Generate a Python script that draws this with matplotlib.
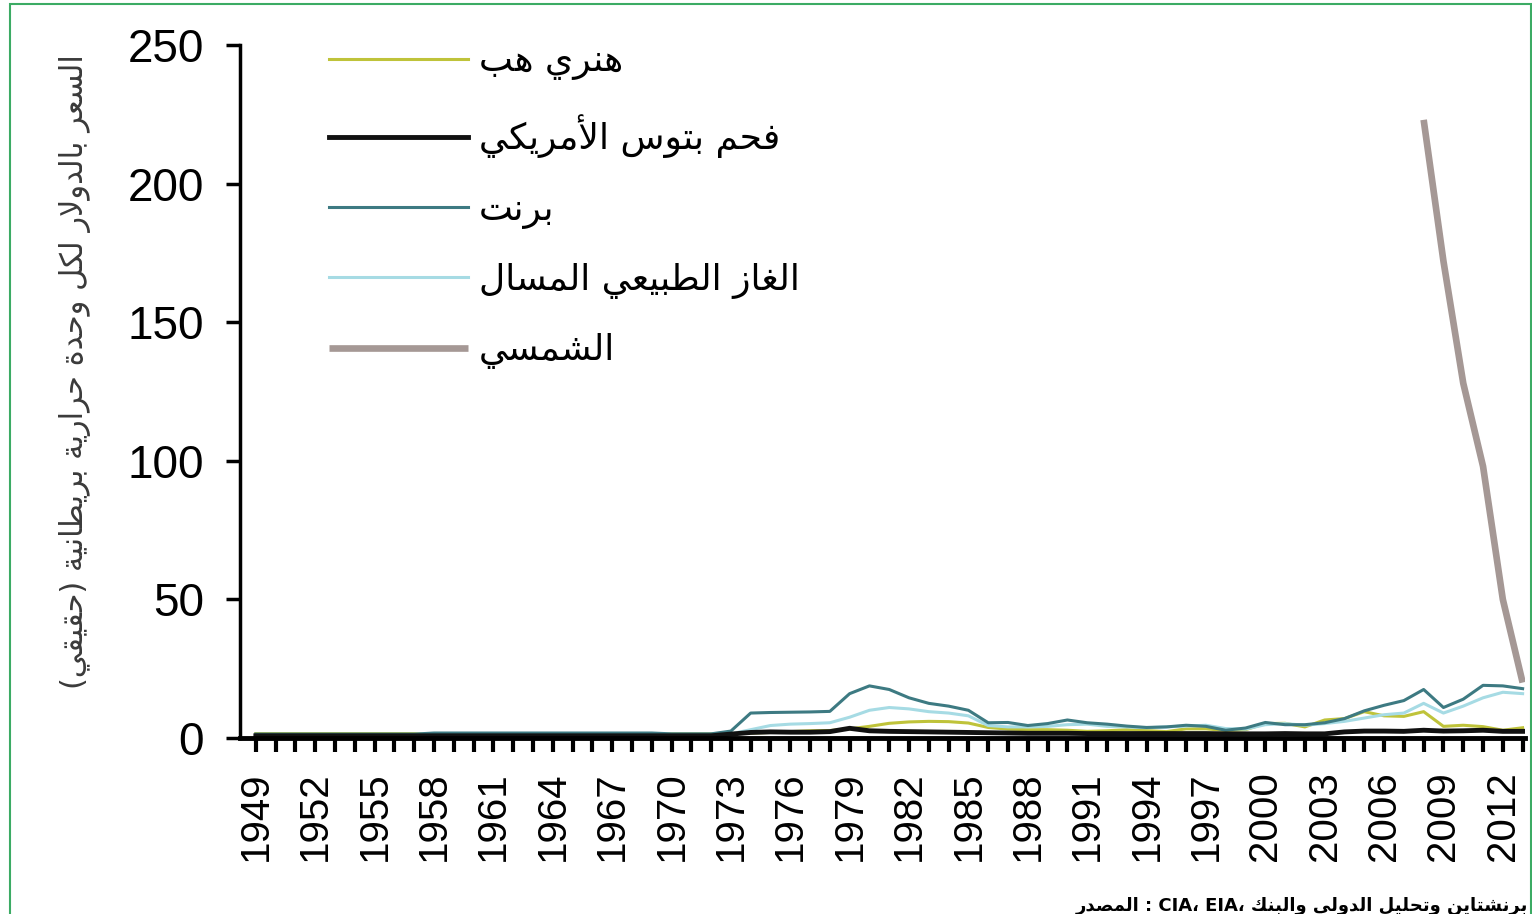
import matplotlib
matplotlib.use("Agg")
import matplotlib.pyplot as plt
from matplotlib.patches import Rectangle
import numpy as np

# ---------------- data ----------------
years = list(range(1949, 2014))

henry_hub = ([1.6] * 9 + [1.2] * 12 + [1.5] * 3 +
             [1.6, 1.8, 2.0, 2.3, 2.6, 2.7, 3.3, 4.2, 5.3, 5.8, 6.0, 5.9, 5.4,
              3.8, 3.2, 3.0, 3.0, 2.8, 2.4, 2.6, 3.0, 2.7, 2.3, 3.3, 3.3, 2.7,
              3.0, 5.2, 5.3, 4.0, 6.5, 7.0, 9.5, 8.0, 7.8, 9.5, 4.2, 4.6, 4.1,
              2.8, 3.7])

coal = ([0.8] * 24 +
        [1.4, 2.0, 2.2, 2.1, 2.1, 2.3, 3.5, 2.6, 2.4, 2.3, 2.2, 2.1, 2.0,
         1.9, 1.8, 1.7, 1.7, 1.7, 1.6, 1.6, 1.6, 1.6, 1.6, 1.6, 1.6, 1.5,
         1.5, 1.5, 1.6, 1.5, 1.5, 2.2, 2.5, 2.5, 2.4, 2.8, 2.5, 2.6, 2.8,
         2.4, 2.4])

brent = ([1.4] * 9 + [1.8] * 12 + [1.5] * 3 +
         [2.5, 9.0, 9.2, 9.3, 9.4, 9.6, 16.0, 18.8, 17.5, 14.5, 12.5, 11.5,
          10.0, 5.5, 5.6, 4.5, 5.2, 6.5, 5.5, 5.0, 4.3, 3.8, 4.0, 4.6, 4.2,
          2.8, 3.6, 5.6, 4.8, 4.8, 5.5, 7.0, 9.8, 11.8, 13.5, 17.5, 11.0,
          14.0, 19.0, 18.8, 17.8])

lng = ([1.3] * 24 +
       [1.5, 3.0, 4.5, 5.0, 5.2, 5.5, 7.5, 10.0, 11.0, 10.5, 9.5, 9.0, 8.0,
        4.5, 4.0, 4.0, 4.2, 4.8, 5.0, 4.2, 4.0, 3.7, 4.0, 4.3, 4.6, 3.4,
        3.2, 4.8, 5.2, 4.6, 5.2, 6.0, 7.2, 8.4, 9.0, 12.5, 9.0, 11.5, 14.5,
        16.5, 16.0])

solar_years = [2008, 2009, 2010, 2011, 2012, 2013]
solar = [223, 172, 128, 98, 50, 20]

y_ticks = [0, 50, 100, 150, 200, 250]
label_years = list(range(1949, 2014, 3))

series_names = ["هنري هب", "فحم بتوس الأمريكي", "برنت",
                "الغاز الطبيعي المسال", "الشمسي"]
y_title = "السعر بالدولار لكل وحدة حرارية بريطانية (حقيقي)"
source_words = ["المصدر", ":", "CIA،", "EIA،", "والبنك", "الدولي", "وتحليل", "برنشتاين"]

# ---------------- arabic shaping helpers ----------------
LETTERS = {
    '\u0622': ('\uFE81', '\uFE82', None, None),
    '\u0623': ('\uFE83', '\uFE84', None, None),
    '\u0625': ('\uFE87', '\uFE88', None, None),
    '\u0627': ('\uFE8D', '\uFE8E', None, None),
    '\u0628': ('\uFE8F', '\uFE90', '\uFE91', '\uFE92'),
    '\u0629': ('\uFE93', '\uFE94', None, None),
    '\u062A': ('\uFE95', '\uFE96', '\uFE97', '\uFE98'),
    '\u062B': ('\uFE99', '\uFE9A', '\uFE9B', '\uFE9C'),
    '\u062C': ('\uFE9D', '\uFE9E', '\uFE9F', '\uFEA0'),
    '\u062D': ('\uFEA1', '\uFEA2', '\uFEA3', '\uFEA4'),
    '\u062E': ('\uFEA5', '\uFEA6', '\uFEA7', '\uFEA8'),
    '\u062F': ('\uFEA9', '\uFEAA', None, None),
    '\u0630': ('\uFEAB', '\uFEAC', None, None),
    '\u0631': ('\uFEAD', '\uFEAE', None, None),
    '\u0632': ('\uFEAF', '\uFEB0', None, None),
    '\u0633': ('\uFEB1', '\uFEB2', '\uFEB3', '\uFEB4'),
    '\u0634': ('\uFEB5', '\uFEB6', '\uFEB7', '\uFEB8'),
    '\u0635': ('\uFEB9', '\uFEBA', '\uFEBB', '\uFEBC'),
    '\u0636': ('\uFEBD', '\uFEBE', '\uFEBF', '\uFEC0'),
    '\u0637': ('\uFEC1', '\uFEC2', '\uFEC3', '\uFEC4'),
    '\u0638': ('\uFEC5', '\uFEC6', '\uFEC7', '\uFEC8'),
    '\u0639': ('\uFEC9', '\uFECA', '\uFECB', '\uFECC'),
    '\u063A': ('\uFECD', '\uFECE', '\uFECF', '\uFED0'),
    '\u0641': ('\uFED1', '\uFED2', '\uFED3', '\uFED4'),
    '\u0642': ('\uFED5', '\uFED6', '\uFED7', '\uFED8'),
    '\u0643': ('\uFED9', '\uFEDA', '\uFEDB', '\uFEDC'),
    '\u0644': ('\uFEDD', '\uFEDE', '\uFEDF', '\uFEE0'),
    '\u0645': ('\uFEE1', '\uFEE2', '\uFEE3', '\uFEE4'),
    '\u0646': ('\uFEE5', '\uFEE6', '\uFEE7', '\uFEE8'),
    '\u0647': ('\uFEE9', '\uFEEA', '\uFEEB', '\uFEEC'),
    '\u0648': ('\uFEED', '\uFEEE', None, None),
    '\u0649': ('\uFEEF', '\uFEF0', None, None),
    '\u064A': ('\uFEF1', '\uFEF2', '\uFEF3', '\uFEF4'),
}
LAM_ALEF = {'\u0627': ('\uFEFB', '\uFEFC'), '\u0623': ('\uFEF7', '\uFEF8'),
            '\u0625': ('\uFEF9', '\uFEFA'), '\u0622': ('\uFEF5', '\uFEF6')}


def shape_word(word):
    units = []
    i = 0
    while i < len(word):
        c = word[i]
        if c == '\u0644' and i + 1 < len(word) and word[i + 1] in LAM_ALEF:
            units.append(('LA', word[i + 1]))
            i += 2
        else:
            units.append(('C', c))
            i += 1

    def is_ar(u):
        return u[0] == 'LA' or u[1] in LETTERS

    def dual(u):
        return u[0] == 'C' and u[1] in LETTERS and LETTERS[u[1]][2] is not None

    out = []
    for k, u in enumerate(units):
        prev = units[k - 1] if k > 0 else None
        nxt = units[k + 1] if k + 1 < len(units) else None
        jp = prev is not None and dual(prev) and is_ar(u)
        if u[0] == 'LA':
            f = LAM_ALEF[u[1]][1 if jp else 0]
        elif u[1] in LETTERS:
            forms = LETTERS[u[1]]
            jn = dual(u) and nxt is not None and is_ar(nxt)
            if jp and jn:
                f = forms[3]
            elif jp:
                f = forms[1]
            elif jn:
                f = forms[2]
            else:
                f = forms[0]
        else:
            f = u[1]
        out.append(f)
    if not any(is_ar(u) for u in units):
        return word
    vis = ''.join(reversed(out))
    return vis.translate(str.maketrans('()', ')('))


def words_rtl(text):
    return ' '.join(shape_word(w) for w in reversed(text.split()))


# ---------------- figure ----------------
W, H = 1532, 914
fig = plt.figure(figsize=(W / 100, H / 100), dpi=100)
fig.patch.set_facecolor('white')

ax = fig.add_axes([240 / W, 1 - 738 / H, (1525 - 240) / W, (738 - 45) / H])

c_hh = '#bfc33a'
c_coal = '#111111'
c_brent = '#3d7a82'
c_lng = '#a6dbe4'
c_solar = '#a59895'

l_hh, = ax.plot(years, henry_hub, color=c_hh, lw=2.2, zorder=3)
l_lng, = ax.plot(years, lng, color=c_lng, lw=2.2, zorder=3)
l_brent, = ax.plot(years, brent, color=c_brent, lw=2.2, zorder=4)
l_coal, = ax.plot(years, coal, color=c_coal, lw=3.5, zorder=5)
l_solar, = ax.plot(solar_years, solar, color=c_solar, lw=4.8, zorder=6,
                   solid_capstyle='butt')

ax.set_xlim(1948.2, 2013.12)
ax.set_ylim(0, 250)
ax.set_yticks(y_ticks)
ax.set_xticks(years)
ax.set_xticklabels([str(y) if y in label_years else '' for y in years],
                   rotation=90, fontsize=29, family='Liberation Sans')
ax.set_yticklabels([str(v) for v in y_ticks], fontsize=33,
                   family='Liberation Sans')
ax.tick_params(axis='x', direction='out', length=10, width=3, pad=14,
               colors='black')
ax.tick_params(axis='y', direction='out', length=10, width=2.5, pad=16,
               colors='black')
for s in ['top', 'right']:
    ax.spines[s].set_visible(False)
ax.spines['left'].set_linewidth(2.5)
ax.spines['bottom'].set_linewidth(3.5)
ax.spines['bottom'].set_zorder(7)

handles = [l_hh, l_coal, l_brent, l_lng, l_solar]
labels = [words_rtl(t) for t in series_names]
leg = ax.legend(handles, labels, loc='upper left',
                bbox_to_anchor=(75 / (1525 - 240), 1.022), frameon=False,
                prop={'family': 'DejaVu Sans', 'size': 26},
                handlelength=3.85, handletextpad=0.28, labelspacing=0.95,
                borderaxespad=0)

fig.text(75 / W, 1 - 372 / H, words_rtl(y_title), rotation=90,
         ha='center', va='center', fontsize=22, family='DejaVu Sans',
         color='#3a3a3a')

fig.text(1528 / W, 1 - 897 / H, ' '.join(shape_word(w) for w in source_words),
         ha='right', va='top', fontsize=13, family='DejaVu Sans',
         fontweight='bold', color='black')

fig.patches.append(Rectangle((10 / W, -0.05), (1531 - 10) / W, 1 - 4 / H + 0.05,
                             transform=fig.transFigure, fill=False,
                             edgecolor='#3cab64', lw=1.5))

fig.savefig('out.png', dpi=100, facecolor='white')
